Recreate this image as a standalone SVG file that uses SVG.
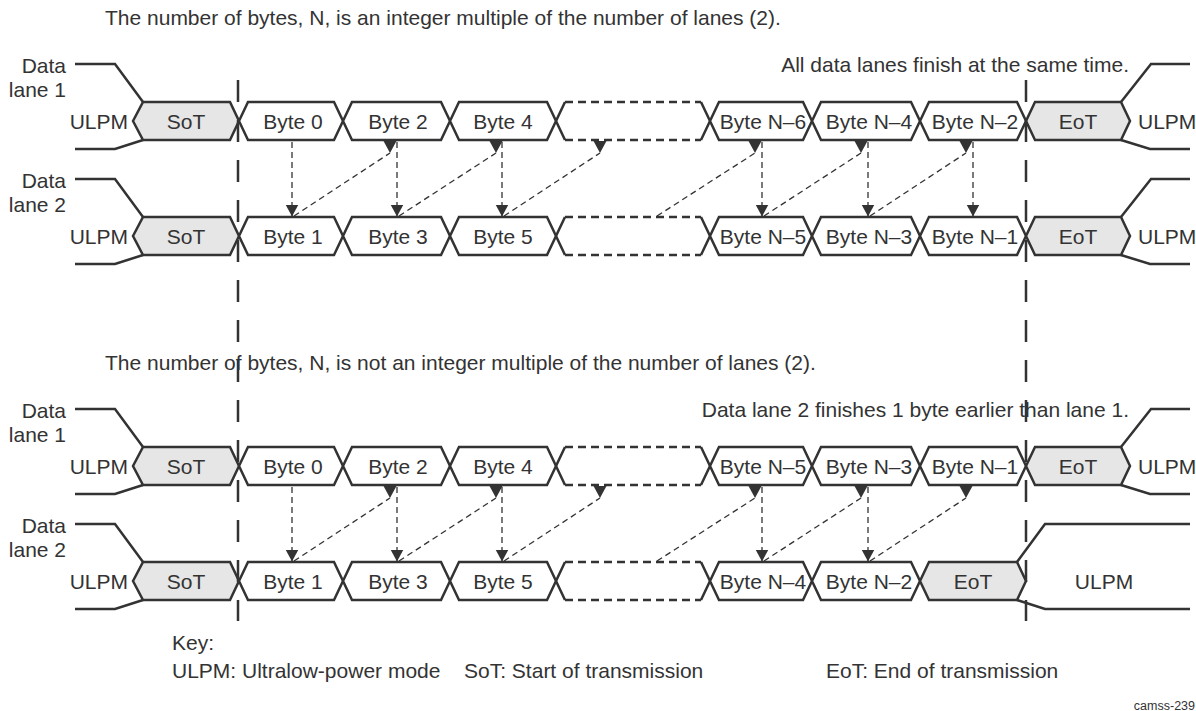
<svg xmlns="http://www.w3.org/2000/svg" width="1196" height="711" viewBox="0 0 1196 711">
<style>
text{font-family:"Liberation Sans",Arial,sans-serif;font-size:21px;fill:#333}
.c{text-anchor:middle}
.e{text-anchor:end}
.box{fill:#fff;stroke:#333;stroke-width:2.5;stroke-linejoin:miter}
.gray{fill:#e6e6e6}
.ln{fill:none;stroke:#333;stroke-width:2.5}
.dl{fill:none;stroke:#333;stroke-width:2.5;stroke-dasharray:8 5}
.big{fill:none;stroke:#333;stroke-width:2.5;stroke-dasharray:22 18}
.ar{fill:none;stroke:#333;stroke-width:1.3;stroke-dasharray:6 4}
.v{marker-end:url(#ah)}
.d{marker-end:url(#ahd)}
</style>
<defs>
<marker id="ah" markerUnits="userSpaceOnUse" markerWidth="14" markerHeight="14" refX="12" refY="6.5" orient="auto"><path d="M0,0 L12,6.5 L0,13 z" fill="#333"/></marker>
<marker id="ahd" markerUnits="userSpaceOnUse" markerWidth="14" markerHeight="14" refX="12" refY="6.5" orient="90"><path d="M0,0 L12,6.5 L0,13 z" fill="#333"/></marker>
</defs>

<text x="105" y="25">The number of bytes, N, is an integer multiple of the number of lanes (2).</text>
<text class="e" x="1129" y="72">All data lanes finish at the same time.</text>
<text x="105" y="370">The number of bytes, N, is not an integer multiple of the number of lanes (2).</text>
<text class="e" x="1129" y="417">Data lane 2 finishes 1 byte earlier than lane 1.</text>

<!-- Top section, lane 1 -->
<g id="top-lane1" transform="translate(0,102)">
  <polyline class="ln" points="75,-38 115,-38 143,0"/>
  <polyline class="ln" points="75,47 115,47 143,38"/>
  <polyline class="ln" points="1121,0 1151,-38 1190,-38"/>
  <polyline class="ln" points="1121,38 1150,47 1190,47"/>
  <text class="e" x="66" y="-29">Data</text>
  <text class="e" x="66" y="-5">lane 1</text>
  <text class="e" x="128" y="26.5">ULPM</text>
  <text x="1138" y="26.5">ULPM</text>
  <g id="t1-sot"><polygon class="box gray" points="133,19 143,0 230,0 239,19 230,38 143,38"/><text class="c" x="186" y="26.5">SoT</text></g>
  <g id="t1-b0"><polygon class="box" points="239,19 248,0 334,0 343,19 334,38 248,38"/><text class="c" x="293" y="26.5">Byte 0</text></g>
  <g id="t1-b2"><polygon class="box" points="343,19 352,0 441,0 450,19 441,38 352,38"/><text class="c" x="398" y="26.5">Byte 2</text></g>
  <g id="t1-b4"><polygon class="box" points="450,19 459,0 547,0 556,19 547,38 459,38"/><text class="c" x="503" y="26.5">Byte 4</text></g>
  <g id="t1-gap"><polyline class="ln" points="565,0 556,19 565,38"/><polyline class="ln" points="701,0 710,19 701,38"/><line class="dl" x1="565" y1="0" x2="701" y2="0"/><line class="dl" x1="565" y1="38" x2="701" y2="38"/></g>
  <g id="t1-bn6"><polygon class="box" points="710,19 719,0 803,0 812,19 803,38 719,38"/><text class="c" x="763" y="26.5">Byte N–6</text></g>
  <g id="t1-bn4"><polygon class="box" points="812,19 821,0 911,0 920,19 911,38 821,38"/><text class="c" x="869" y="26.5">Byte N–4</text></g>
  <g id="t1-bn2"><polygon class="box" points="920,19 929,0 1017,0 1026,19 1017,38 929,38"/><text class="c" x="975" y="26.5">Byte N–2</text></g>
  <g id="t1-eot"><polygon class="box gray" points="1026,19 1035,0 1121,0 1130,19 1121,38 1035,38"/><text class="c" x="1078" y="26.5">EoT</text></g>
</g>

<!-- Top section, lane 2 -->
<g id="top-lane2" transform="translate(0,217)">
  <polyline class="ln" points="75,-38 115,-38 143,0"/>
  <polyline class="ln" points="75,47 115,47 143,38"/>
  <polyline class="ln" points="1121,0 1151,-38 1190,-38"/>
  <polyline class="ln" points="1121,38 1150,47 1190,47"/>
  <text class="e" x="66" y="-29">Data</text>
  <text class="e" x="66" y="-5">lane 2</text>
  <text class="e" x="128" y="26.5">ULPM</text>
  <text x="1138" y="26.5">ULPM</text>
  <g id="t2-sot"><polygon class="box gray" points="133,19 143,0 230,0 239,19 230,38 143,38"/><text class="c" x="186" y="26.5">SoT</text></g>
  <g id="t2-b1"><polygon class="box" points="239,19 248,0 334,0 343,19 334,38 248,38"/><text class="c" x="293" y="26.5">Byte 1</text></g>
  <g id="t2-b3"><polygon class="box" points="343,19 352,0 441,0 450,19 441,38 352,38"/><text class="c" x="398" y="26.5">Byte 3</text></g>
  <g id="t2-b5"><polygon class="box" points="450,19 459,0 547,0 556,19 547,38 459,38"/><text class="c" x="503" y="26.5">Byte 5</text></g>
  <g id="t2-gap"><polyline class="ln" points="565,0 556,19 565,38"/><polyline class="ln" points="701,0 710,19 701,38"/><line class="dl" x1="565" y1="0" x2="701" y2="0"/><line class="dl" x1="565" y1="38" x2="701" y2="38"/></g>
  <g id="t2-bn5"><polygon class="box" points="710,19 719,0 803,0 812,19 803,38 719,38"/><text class="c" x="763" y="26.5">Byte N–5</text></g>
  <g id="t2-bn3"><polygon class="box" points="812,19 821,0 911,0 920,19 911,38 821,38"/><text class="c" x="869" y="26.5">Byte N–3</text></g>
  <g id="t2-bn1"><polygon class="box" points="920,19 929,0 1017,0 1026,19 1017,38 929,38"/><text class="c" x="975" y="26.5">Byte N–1</text></g>
  <g id="t2-eot"><polygon class="box gray" points="1026,19 1035,0 1121,0 1130,19 1121,38 1035,38"/><text class="c" x="1078" y="26.5">EoT</text></g>
</g>

<!-- Bottom section, lane 1 -->
<g id="bot-lane1" transform="translate(0,447)">
  <polyline class="ln" points="75,-38 115,-38 143,0"/>
  <polyline class="ln" points="75,47 115,47 143,38"/>
  <polyline class="ln" points="1121,0 1151,-38 1190,-38"/>
  <polyline class="ln" points="1121,38 1150,47 1190,47"/>
  <text class="e" x="66" y="-29">Data</text>
  <text class="e" x="66" y="-5">lane 1</text>
  <text class="e" x="128" y="26.5">ULPM</text>
  <text x="1138" y="26.5">ULPM</text>
  <g id="b1-sot"><polygon class="box gray" points="133,19 143,0 230,0 239,19 230,38 143,38"/><text class="c" x="186" y="26.5">SoT</text></g>
  <g id="b1-b0"><polygon class="box" points="239,19 248,0 334,0 343,19 334,38 248,38"/><text class="c" x="293" y="26.5">Byte 0</text></g>
  <g id="b1-b2"><polygon class="box" points="343,19 352,0 441,0 450,19 441,38 352,38"/><text class="c" x="398" y="26.5">Byte 2</text></g>
  <g id="b1-b4"><polygon class="box" points="450,19 459,0 547,0 556,19 547,38 459,38"/><text class="c" x="503" y="26.5">Byte 4</text></g>
  <g id="b1-gap"><polyline class="ln" points="565,0 556,19 565,38"/><polyline class="ln" points="701,0 710,19 701,38"/><line class="dl" x1="565" y1="0" x2="701" y2="0"/><line class="dl" x1="565" y1="38" x2="701" y2="38"/></g>
  <g id="b1-bn5"><polygon class="box" points="710,19 719,0 803,0 812,19 803,38 719,38"/><text class="c" x="763" y="26.5">Byte N–5</text></g>
  <g id="b1-bn3"><polygon class="box" points="812,19 821,0 911,0 920,19 911,38 821,38"/><text class="c" x="869" y="26.5">Byte N–3</text></g>
  <g id="b1-bn1"><polygon class="box" points="920,19 929,0 1017,0 1026,19 1017,38 929,38"/><text class="c" x="975" y="26.5">Byte N–1</text></g>
  <g id="b1-eot"><polygon class="box gray" points="1026,19 1035,0 1121,0 1130,19 1121,38 1035,38"/><text class="c" x="1078" y="26.5">EoT</text></g>
</g>

<!-- Bottom section, lane 2 -->
<g id="bot-lane2" transform="translate(0,562)">
  <polyline class="ln" points="75,-38 115,-38 143,0"/>
  <polyline class="ln" points="75,47 115,47 143,38"/>
  <polyline class="ln" points="1017,0 1045,-38 1190,-38"/>
  <polyline class="ln" points="1017,38 1045,47 1190,47"/>
  <text class="e" x="66" y="-29">Data</text>
  <text class="e" x="66" y="-5">lane 2</text>
  <text class="e" x="128" y="26.5">ULPM</text>
  <text class="c" x="1104" y="26.5">ULPM</text>
  <g id="b2-sot"><polygon class="box gray" points="133,19 143,0 230,0 239,19 230,38 143,38"/><text class="c" x="186" y="26.5">SoT</text></g>
  <g id="b2-b1"><polygon class="box" points="239,19 248,0 334,0 343,19 334,38 248,38"/><text class="c" x="293" y="26.5">Byte 1</text></g>
  <g id="b2-b3"><polygon class="box" points="343,19 352,0 441,0 450,19 441,38 352,38"/><text class="c" x="398" y="26.5">Byte 3</text></g>
  <g id="b2-b5"><polygon class="box" points="450,19 459,0 547,0 556,19 547,38 459,38"/><text class="c" x="503" y="26.5">Byte 5</text></g>
  <g id="b2-gap"><polyline class="ln" points="565,0 556,19 565,38"/><polyline class="ln" points="701,0 710,19 701,38"/><line class="dl" x1="565" y1="0" x2="701" y2="0"/><line class="dl" x1="565" y1="38" x2="701" y2="38"/></g>
  <g id="b2-bn4"><polygon class="box" points="710,19 719,0 803,0 812,19 803,38 719,38"/><text class="c" x="763" y="26.5">Byte N–4</text></g>
  <g id="b2-bn2"><polygon class="box" points="812,19 821,0 911,0 920,19 911,38 821,38"/><text class="c" x="869" y="26.5">Byte N–2</text></g>
  <g id="b2-eot"><polygon class="box gray" points="920,19 929,0 1017,0 1026,19 1017,38 929,38"/><text class="c" x="973" y="26.5">EoT</text></g>
</g>

<!-- Connectors -->
<g id="connectors">
  <line class="big" x1="238" y1="80" x2="238" y2="621"/>
  <line class="big" x1="1026" y1="80" x2="1026" y2="621"/>
  <g id="top-arrows">
    <line class="ar v" x1="292" y1="142" x2="292" y2="216.5"/>
    <line class="ar v" x1="397" y1="142" x2="397" y2="216.5"/>
    <line class="ar v" x1="502" y1="142" x2="502" y2="216.5"/>
    <line class="ar v" x1="762" y1="142" x2="762" y2="216.5"/>
    <line class="ar v" x1="868" y1="142" x2="868" y2="216.5"/>
    <line class="ar v" x1="973" y1="142" x2="973" y2="216.5"/>
    <line class="ar d" x1="294" y1="216" x2="390" y2="153"/>
    <line class="ar d" x1="399" y1="216" x2="496" y2="153"/>
    <line class="ar d" x1="504" y1="216" x2="600" y2="153"/>
    <line class="ar d" x1="657" y1="216" x2="755" y2="153"/>
    <line class="ar d" x1="764" y1="216" x2="861" y2="153"/>
    <line class="ar d" x1="870" y1="216" x2="966" y2="153"/>
  </g>
  <g id="bottom-arrows" transform="translate(0,345)">
    <line class="ar v" x1="292" y1="142" x2="292" y2="216.5"/>
    <line class="ar v" x1="397" y1="142" x2="397" y2="216.5"/>
    <line class="ar v" x1="502" y1="142" x2="502" y2="216.5"/>
    <line class="ar v" x1="762" y1="142" x2="762" y2="216.5"/>
    <line class="ar v" x1="868" y1="142" x2="868" y2="216.5"/>
    <line class="ar d" x1="294" y1="216" x2="390" y2="153"/>
    <line class="ar d" x1="399" y1="216" x2="496" y2="153"/>
    <line class="ar d" x1="504" y1="216" x2="600" y2="153"/>
    <line class="ar d" x1="657" y1="216" x2="755" y2="153"/>
    <line class="ar d" x1="764" y1="216" x2="861" y2="153"/>
    <line class="ar d" x1="870" y1="216" x2="966" y2="153"/>
  </g>
</g>

<g id="key">
  <text x="172" y="650">Key:</text>
  <text x="172" y="678">ULPM: Ultralow-power mode</text>
  <text x="464" y="678">SoT: Start of transmission</text>
  <text x="826" y="678">EoT: End of transmission</text>
</g>
<text class="e" x="1195" y="710" style="font-size:12.5px">camss-239</text>
</svg>
